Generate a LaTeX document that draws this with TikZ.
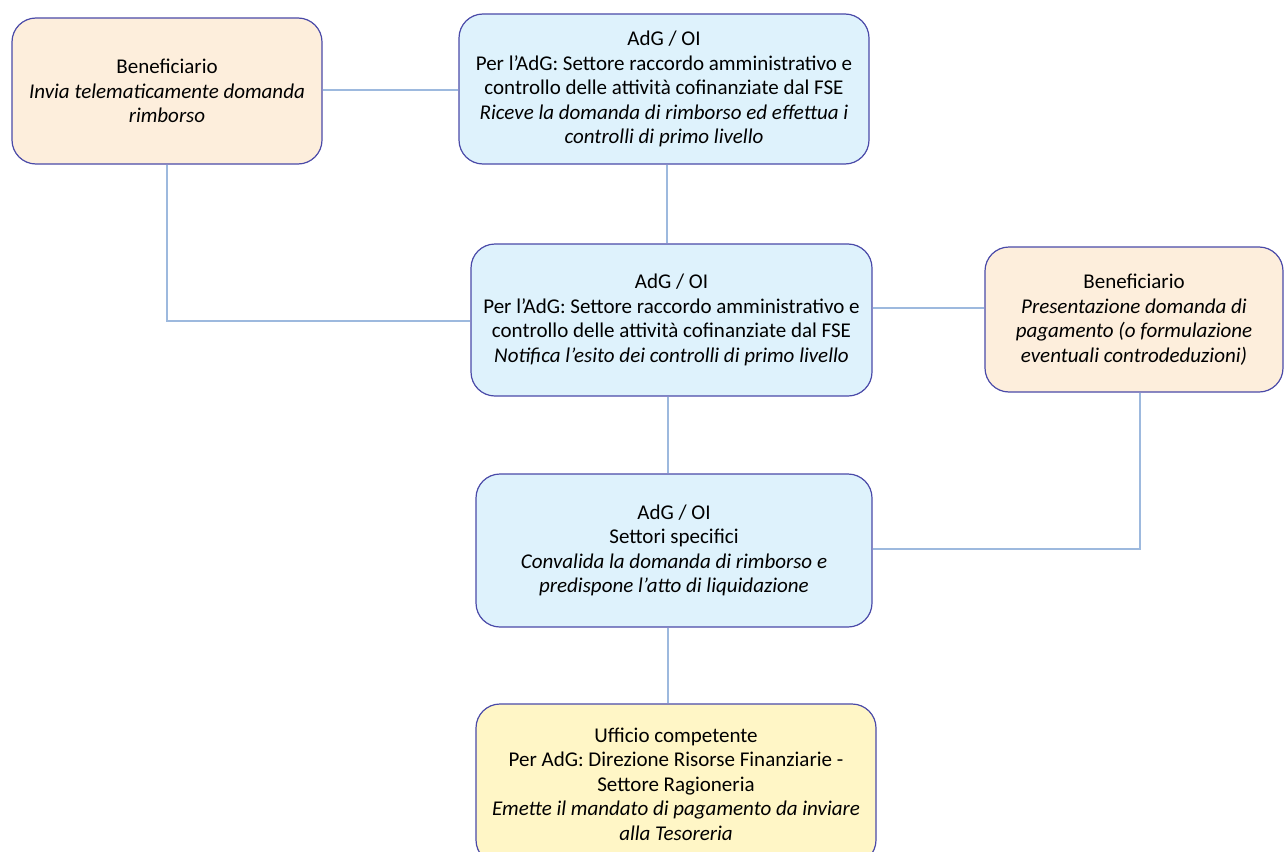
\documentclass[tikz,border=0pt]{standalone}
\usepackage{fontspec}
\setmainfont{Carlito}
\definecolor{boxborder}{HTML}{4A4AA8}
\definecolor{peach}{HTML}{FDEEDC}
\definecolor{lblue}{HTML}{DEF2FC}
\definecolor{lyellow}{HTML}{FFF6C6}
\definecolor{conn}{HTML}{9DB9DE}
\tikzset{
  x=1pt,y=-1pt,
  flowbox/.style={draw=boxborder, line width=1.2pt, rounded corners=24pt, align=center,
    font=\fontsize{21}{24.5}\selectfont, inner sep=0pt, anchor=center},
  conline/.style={draw=conn, line width=1.4pt}
}
\begin{document}
\begin{tikzpicture}
\useasboundingbox (0,0) rectangle (1284,851);
\clip (0,0) rectangle (1284,851);
\node[flowbox, fill=peach, minimum width=310pt, minimum height=146pt] (b1) at (167,91)
  {Beneficiario\\\textit{Invia telematicamente domanda}\\\textit{rimborso}};
\node[flowbox, fill=lblue, minimum width=410pt, minimum height=150pt] (a1) at (664,89)
  {AdG / OI\\Per l’AdG: Settore raccordo amministrativo e\\controllo delle attività cofinanziate dal FSE\\\textit{Riceve la domanda di rimborso ed effettua i}\\\textit{controlli di primo livello}};
\node[flowbox, fill=lblue, minimum width=401pt, minimum height=152pt] (a2) at (671.5,320)
  {AdG / OI\\Per l’AdG: Settore raccordo amministrativo e\\controllo delle attività cofinanziate dal FSE\\\textit{Notifica l’esito dei controlli di primo livello}};
\node[flowbox, fill=peach, minimum width=298pt, minimum height=145pt] (b2) at (1134,319.5)
  {Beneficiario\\\textit{Presentazione domanda di}\\\textit{pagamento (o formulazione}\\\textit{eventuali controdeduzioni)}};
\node[flowbox, fill=lblue, minimum width=396pt, minimum height=153pt] (a3) at (674,550.5)
  {AdG / OI\\Settori specifici\\\textit{Convalida la domanda di rimborso e}\\\textit{predispone l’atto di liquidazione}};
\node[flowbox, fill=lyellow, minimum width=400pt, minimum height=160pt] (u) at (676,784)
  {Ufficio competente\\Per AdG: Direzione Risorse Finanziarie -\\Settore Ragioneria\\\textit{Emette il mandato di pagamento da inviare}\\\textit{alla Tesoreria}};
\coordinate (c1) at (167,321);
\coordinate (c2) at (1140,549);
\draw[conline] (b1.east |- 0,90) -- (a1.west |- 0,90);
\draw[conline] (b1.south) -- (c1) -- (a2.west |- c1);
\draw[conline] (a1.south -| 667,0) -- (a2.north -| 667,0);
\draw[conline] (a2.east |- 0,308) -- (b2.west |- 0,308);
\draw[conline] (a2.south -| 668,0) -- (a3.north -| 668,0);
\draw[conline] (b2.south -| c2) -- (c2) -- (a3.east |- c2);
\draw[conline] (a3.south -| 668,0) -- (u.north -| 668,0);
\end{tikzpicture}
\end{document}
